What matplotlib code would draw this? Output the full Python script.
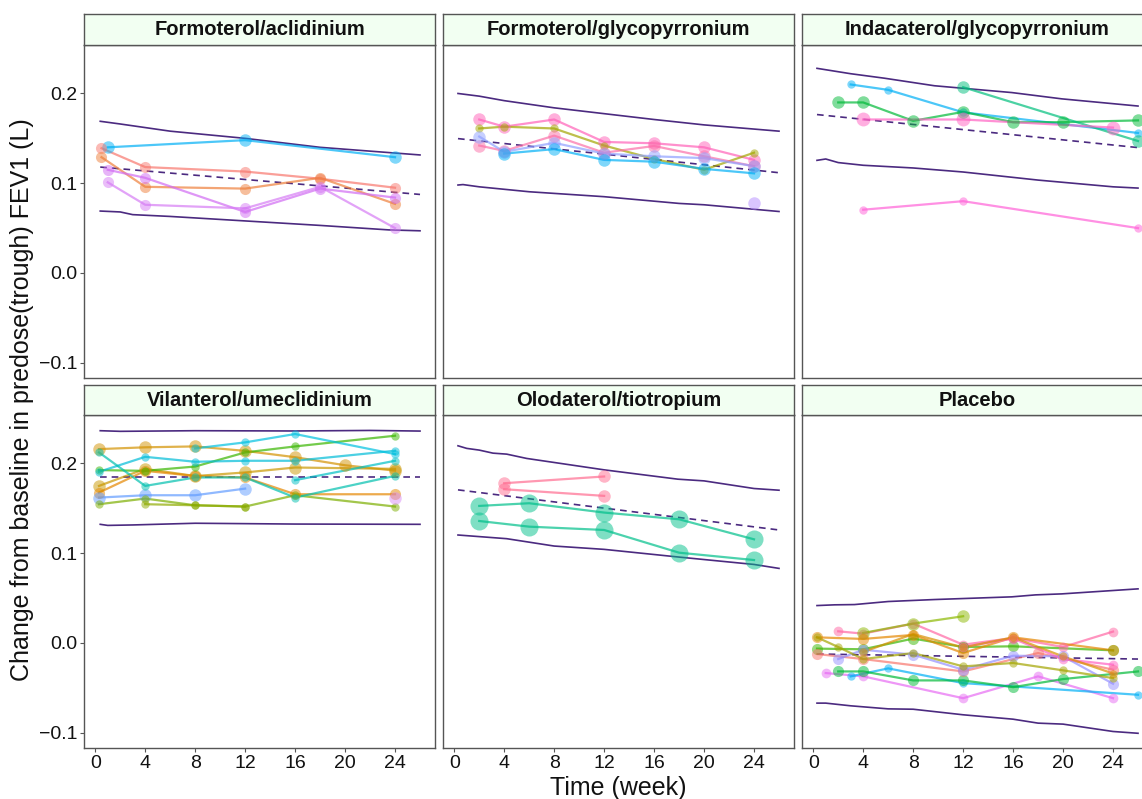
import matplotlib.pyplot as plt
from matplotlib.ticker import FuncFormatter

plt.rcParams['font.family'] = ['Liberation Sans', 'DejaVu Sans']

titles = ['Formoterol/aclidinium', 'Formoterol/glycopyrronium', 'Indacaterol/glycopyrronium',
          'Vilanterol/umeclidinium', 'Olodaterol/tiotropium', 'Placebo']

# --- Formoterol/aclidinium
fa_up_x = [0.4, 2, 6, 12, 18, 26]
fa_up_y = [0.169, 0.166, 0.158, 0.150, 0.140, 0.1315]
fa_lo_x = [0.4, 2, 3, 6, 12, 18, 23.5, 26]
fa_lo_y = [0.069, 0.068, 0.065, 0.063, 0.058, 0.053, 0.048, 0.047]
fa_med_x = [0.4, 26]
fa_med_y = [0.118, 0.0875]
fa_weeks = [[1, 12, 24], [0.5, 4, 12, 18, 24], [0.5, 4, 12, 18, 24],
            [1, 4, 12, 18, 24], [1, 4, 12, 18, 24]]
fa_fev1 = [[0.140, 0.148, 0.129],
           [0.139, 0.118, 0.113, 0.105, 0.095],
           [0.129, 0.096, 0.094, 0.106, 0.077],
           [0.115, 0.106, 0.068, 0.094, 0.084],
           [0.101, 0.076, 0.072, 0.096, 0.050]]
fa_cols = ['#00B0F6', '#F8766D', '#EE7F3A', '#D16BF3', '#D67CF5']
fa_size = [9, 8, 8, 8, 8]

# --- Formoterol/glycopyrronium
fg_up_x = [0.3, 2, 4, 8, 16, 20, 26]
fg_up_y = [0.200, 0.197, 0.192, 0.184, 0.171, 0.165, 0.158]
fg_lo_x = [0.3, 0.7, 2, 6, 12, 18, 20, 26]
fg_lo_y = [0.098, 0.0985, 0.096, 0.0905, 0.085, 0.0775, 0.076, 0.0685]
fg_med_x = [0.3, 26]
fg_med_y = [0.1497, 0.1117]
fg_weeks = [[2, 4, 8, 12, 16, 20, 24], [2, 4, 8, 12, 16, 20, 24], [2, 4, 8, 12, 16, 20, 24],
            [2, 4, 8, 12, 16, 20, 24], [4, 8, 12, 16, 20, 24], [24]]
fg_fev1 = [[0.171, 0.163, 0.171, 0.146, 0.1445, 0.140, 0.126],
           [0.161, 0.163, 0.161, 0.142, 0.127, 0.115, 0.134],
           [0.142, 0.136, 0.153, 0.134, 0.1415, 0.130, 0.119],
           [0.152, 0.135, 0.145, 0.133, 0.130, 0.128, 0.119],
           [0.133, 0.138, 0.126, 0.124, 0.116, 0.111],
           [0.078]]
fg_cols = ['#FF61B8', '#A3A500', '#FC6FA8', '#8FA0FF', '#00B0F6', '#B58CFF']
fg_size = [9, 6, 9, 9, 9, 9]

# --- Indacaterol/glycopyrronium
ig_up_x = [0.3, 3, 5.7, 9.7, 15.9, 19.9, 26]
ig_up_y = [0.228, 0.222, 0.217, 0.2086, 0.201, 0.194, 0.186]
ig_lo_x = [0.3, 1, 2, 4, 8, 12, 18, 20, 24, 26]
ig_lo_y = [0.1255, 0.127, 0.123, 0.120, 0.117, 0.1125, 0.1035, 0.101, 0.096, 0.0946]
ig_med_x = [0.3, 26]
ig_med_y = [0.1765, 0.1397]
ig_weeks = [[3, 6, 12, 26], [2, 4, 8, 12, 16, 20, 26], [12, 26], [4, 12, 24], [4, 12, 26]]
ig_fev1 = [[0.210, 0.204, 0.179, 0.156],
           [0.190, 0.190, 0.1695, 0.1795, 0.168, 0.168, 0.170],
           [0.207, 0.147],
           [0.171, 0.171, 0.162],
           [0.0705, 0.080, 0.050]]
ig_cols = ['#00B0F6', '#00BA38', '#00BF7D', '#FF61C3', '#FF61D8']
ig_size = [6, 9, 9, 10, 6]

# --- Vilanterol/umeclidinium
vu_up_x = [0.4, 2, 8, 16, 22, 26]
vu_up_y = [0.2365, 0.2358, 0.2365, 0.2362, 0.2368, 0.2361]
vu_lo_x = [0.4, 1, 3, 8, 16, 26]
vu_lo_y = [0.1322, 0.131, 0.1315, 0.1334, 0.1325, 0.1322]
vu_med_x = [0.4, 26]
vu_med_y = [0.1844, 0.1844]
vu_weeks = [[0.3, 4, 8, 12, 16, 20, 24], [0.3, 4, 8, 12, 16, 24], [0.3, 4, 8, 12, 16, 24],
            [0.3, 4, 8, 12], [0.3, 4, 8, 12, 16, 24], [0.3, 4, 8, 12, 16, 24], [4, 8, 12],
            [0.3, 4, 8, 12, 16, 24], [8, 12, 16, 24], [0.3, 4, 8, 12, 16, 24], [16, 24], [24]]
vu_fev1 = [[0.216, 0.218, 0.219, 0.214, 0.207, 0.198, 0.192],
           [0.175, 0.194, 0.186, 0.190, 0.1955, 0.194],
           [0.1676, 0.1918, 0.186, 0.1844, 0.1657, 0.1657],
           [0.162, 0.1646, 0.1646, 0.172],
           [0.1546, 0.1609, 0.1534, 0.152, 0.1646, 0.152],
           [0.1926, 0.1918, 0.1966, 0.2123, 0.219, 0.2309],
           [0.1546, 0.1534, 0.152],
           [0.1907, 0.2074, 0.2019, 0.2030, 0.2030, 0.2142],
           [0.2168, 0.2235, 0.2328, 0.2104],
           [0.2123, 0.175, 0.1844, 0.1844, 0.162, 0.1862],
           [0.1814, 0.2030],
           [0.162]]
vu_cols = ['#D39200', '#C99800', '#E58700', '#619CFF', '#7CAE00', '#39B600', '#8FAA00',
           '#00BCD8', '#00C1E0', '#00C0AF', '#00BFC4', '#D98CF7']
vu_size = [9, 9, 8, 9, 6, 6, 6, 6, 6, 6, 6, 9]

# --- Olodaterol/tiotropium
ot_up_x = [0.3, 1, 2, 3.1, 4.2, 5.8, 8, 12, 17.9, 20, 24, 26]
ot_up_y = [0.2197, 0.2168, 0.2149, 0.2115, 0.2104, 0.2056, 0.2011, 0.1929, 0.1825, 0.1806, 0.1721, 0.1702]
ot_lo_x = [0.3, 4.2, 8, 12, 18, 24, 26]
ot_lo_y = [0.1203, 0.1162, 0.108, 0.1043, 0.0957, 0.0875, 0.0831]
ot_med_x = [0.3, 26]
ot_med_y = [0.1706, 0.1259]
ot_weeks = [[4, 12], [4, 12], [2, 6, 12, 18, 24], [2, 6, 12, 18, 24]]
ot_fev1 = [[0.178, 0.1855],
           [0.1713, 0.1639],
           [0.1527, 0.1557, 0.1453, 0.1378, 0.1155],
           [0.1359, 0.1296, 0.1259, 0.1006, 0.0924]]
ot_cols = ['#FF6C91', '#FF6C91', '#00C08B', '#00C08B']
ot_size = [9, 9, 13, 13]

# --- Placebo
pl_up_x = [0.3, 1.7, 3.3, 6, 9.7, 15.9, 17.8, 19.9, 26]
pl_up_y = [0.0417, 0.0425, 0.0428, 0.0462, 0.0484, 0.0514, 0.0536, 0.0547, 0.0603]
pl_lo_x = [0.3, 1, 3, 6, 8, 12, 16, 18, 20, 24, 26]
pl_lo_y = [-0.067, -0.067, -0.070, -0.0734, -0.0738, -0.080, -0.0849, -0.0893, -0.0904, -0.0986, -0.1006]
pl_med_x = [0.3, 26]
pl_med_y = [-0.0123, -0.0179]
pl_weeks = [[2, 4, 8, 12, 16, 20, 24], [1, 4, 12, 18, 24], [3, 6, 12, 26],
            [2, 4, 8, 12, 16, 20, 26], [0.3, 4, 8, 12, 16, 24], [4, 8, 12],
            [0.3, 4, 8, 12, 16, 24], [0.3, 4, 12, 18, 24], [2, 4, 8, 12, 16, 20, 24],
            [0.3, 2, 4, 8, 12, 16, 20, 24], [12, 16, 20, 24], [4, 8, 12, 16, 20, 24]]
pl_fev1 = [[0.013, 0.0104, 0.0216, -0.0019, 0.0056, -0.0045, 0.0127],
           [-0.0335, -0.0372, -0.0615, -0.0372, -0.0615],
           [-0.0372, -0.0283, -0.0447, -0.0577],
           [-0.0317, -0.0317, -0.0417, -0.0417, -0.0492, -0.0402, -0.0317],
           [-0.0063, -0.007, 0.0049, -0.0045, -0.0037, -0.0082],
           [0.0112, 0.0216, 0.0298],
           [0.0063, 0.0045, 0.0090, -0.0112, 0.0063, -0.0082],
           [-0.0123, -0.0179, -0.0317, -0.0112, -0.0298],
           [-0.0179, -0.0075, -0.0130, -0.0298, -0.0142, -0.0149, -0.0454],
           [0.0063, -0.0045, -0.0179, -0.0112, -0.0261, -0.0223, -0.0305, -0.0391],
           [-0.0045, 0.0049, -0.0179, -0.0242],
           [-0.010, 0.010, -0.005, 0.0063, -0.015, -0.034]]
pl_cols = ['#FF67A4', '#E76BF3', '#00B0F6', '#00BA38', '#39B600', '#8CB800',
           '#E58700', '#F8766D', '#9590FF', '#A3A500', '#FF61C3', '#D89000']
pl_size = [7, 7, 6, 8, 8, 9, 8, 8, 8, 6, 7, 6]

band_col = '#4B2A80'
W, H = 1142, 799
col_left = [84, 443, 802]
panel_w = 351
rows = [(14, 45, 378), (385, 415, 748)]  # strip top, panel top, panel bottom (px)

panel_data = [
    (fa_up_x, fa_up_y, fa_lo_x, fa_lo_y, fa_med_x, fa_med_y, fa_weeks, fa_fev1, fa_cols, fa_size),
    (fg_up_x, fg_up_y, fg_lo_x, fg_lo_y, fg_med_x, fg_med_y, fg_weeks, fg_fev1, fg_cols, fg_size),
    (ig_up_x, ig_up_y, ig_lo_x, ig_lo_y, ig_med_x, ig_med_y, ig_weeks, ig_fev1, ig_cols, ig_size),
    (vu_up_x, vu_up_y, vu_lo_x, vu_lo_y, vu_med_x, vu_med_y, vu_weeks, vu_fev1, vu_cols, vu_size),
    (ot_up_x, ot_up_y, ot_lo_x, ot_lo_y, ot_med_x, ot_med_y, ot_weeks, ot_fev1, ot_cols, ot_size),
    (pl_up_x, pl_up_y, pl_lo_x, pl_lo_y, pl_med_x, pl_med_y, pl_weeks, pl_fev1, pl_cols, pl_size),
]

def yfmt(v, pos):
    return ('%.1f' % v).replace('-', '\u2212')

fig = plt.figure(figsize=(W / 100, H / 100), dpi=100)

for i, (title, d) in enumerate(zip(titles, panel_data)):
    r, c = divmod(i, 3)
    s_top, p_top, p_bot = rows[r]
    left = col_left[c] / W
    ax = fig.add_axes([left, 1 - p_bot / H, panel_w / W, (p_bot - p_top) / H])
    st = fig.add_axes([left, 1 - p_top / H, panel_w / W, (p_top - s_top) / H])
    st.set_facecolor('#F2FFF2')
    st.set_xticks([])
    st.set_yticks([])
    for sp in st.spines.values():
        sp.set_color('#555555')
        sp.set_linewidth(1.0)
    st.text(0.5, 0.5, title, ha='center', va='center', fontsize=14.5, fontweight='bold', color='#111111')

    up_x, up_y, lo_x, lo_y, med_x, med_y, weeks, fev1, cols, sizes = d
    ax.plot(up_x, up_y, color=band_col, lw=1.2, zorder=2)
    ax.plot(lo_x, lo_y, color=band_col, lw=1.2, zorder=2)
    ax.plot(med_x, med_y, color=band_col, lw=1.2, ls=(0, (4, 3)), zorder=2)
    for wk, y, col, ms in zip(weeks, fev1, cols, sizes):
        ax.plot(wk, y, color=col, lw=1.6, alpha=0.7, zorder=3)
        ax.plot(wk, y, 'o', color=col, ms=ms, alpha=0.5, mec='none', zorder=4)

    ax.set_xlim(-0.9, 27.2)
    ax.set_ylim(-0.117, 0.254)
    ax.set_xticks([0, 4, 8, 12, 16, 20, 24])
    ax.set_yticks([-0.1, 0.0, 0.1, 0.2])
    ax.yaxis.set_major_formatter(FuncFormatter(yfmt))
    for sp in ax.spines.values():
        sp.set_color('#555555')
        sp.set_linewidth(1.0)
    ax.tick_params(length=3, width=0.8, color='#555555', labelsize=14, labelcolor='#111111', pad=2)
    if c != 0:
        ax.tick_params(axis='y', left=False, labelleft=False)
    if r == 0:
        ax.tick_params(axis='x', bottom=False, labelbottom=False)

fig.text(618 / W, 1 - 788 / H, 'Time (week)', ha='center', va='center', fontsize=18, color='#111111')
fig.text(22 / W, 1 - 400 / H, 'Change from baseline in predose(trough) FEV1 (L)', ha='center', va='center',
         rotation=90, fontsize=18, color='#111111')

fig.savefig('out.png', dpi=100)
